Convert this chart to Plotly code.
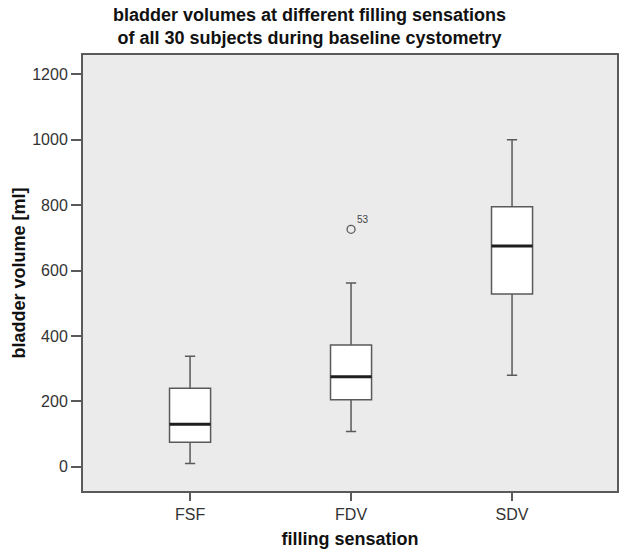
import plotly.graph_objects as go

categories = ["FSF", "FDV", "SDV"]
lower_whisker = [10, 108, 280]
q1_vals = [75, 205, 528]
median_vals = [130, 275, 675]
q3_vals = [240, 372, 795]
upper_whisker = [338, 562, 1000]
outlier_cat = ["FDV"]
outlier_vals = [726]
outlier_labels = ["53"]
y_ticks = [0, 200, 400, 600, 800, 1000, 1200]

FONT = "Liberation Sans, Arial, sans-serif"
LINE = "#5a5a5a"

fig = go.Figure()
fig.add_trace(go.Box(
    x=categories, q1=q1_vals, median=median_vals, q3=q3_vals,
    lowerfence=lower_whisker, upperfence=upper_whisker,
    width=0.255, whiskerwidth=0.25, fillcolor="white",
    line=dict(color=LINE, width=1.5), boxpoints=False,
    showlegend=False, hoverinfo="skip"))
# thick median bars
fig.add_trace(go.Box(
    x=categories, q1=median_vals, median=median_vals, q3=median_vals,
    lowerfence=median_vals, upperfence=median_vals,
    width=0.255, whiskerwidth=0, fillcolor="rgba(0,0,0,0)",
    line=dict(color="#1e1e1e", width=3), boxpoints=False,
    showlegend=False, hoverinfo="skip"))
fig.add_trace(go.Scatter(
    x=outlier_cat, y=outlier_vals, mode="markers",
    marker=dict(symbol="circle-open", size=8, color=LINE, line=dict(width=1.3)),
    showlegend=False, hoverinfo="skip"))
for c, v, t in zip(outlier_cat, outlier_vals, outlier_labels):
    fig.add_annotation(x=c, y=v, text=t, showarrow=False,
                       xshift=12, yshift=10,
                       font=dict(family=FONT, size=10, color="#444"))

fig.update_layout(
    width=619, height=554,
    margin=dict(l=83, r=0, t=55, b=63),
    paper_bgcolor="white", plot_bgcolor="#ebebeb",
    boxmode="overlay",
    title=dict(
        text="bladder volumes at different filling sensations<br>of all 30 subjects during baseline cystometry",
        x=0.5, xref="container", xanchor="center",
        y=1 - 21 / 554, yref="container", yanchor="middle",
        font=dict(family=FONT, size=18, color="#111", weight="bold")),
    font=dict(family=FONT),
)
fig.update_xaxes(
    type="category", categoryorder="array", categoryarray=categories,
    range=[-0.665, 2.652],
    showline=True, mirror=True, linecolor=LINE, linewidth=2,
    ticks="outside", ticklen=8, tickcolor=LINE, tickwidth=1.5,
    tickfont=dict(family=FONT, size=16, color="#333"),
    showgrid=False, zeroline=False,
    title=dict(text="filling sensation", standoff=10,
               font=dict(family=FONT, size=18, color="#111", weight="bold")))
fig.update_yaxes(
    range=[-74, 1259], tickvals=y_ticks,
    showline=True, mirror=True, linecolor=LINE, linewidth=2,
    ticks="outside", ticklen=10, tickcolor=LINE, tickwidth=1.5,
    tickfont=dict(family=FONT, size=16, color="#333"),
    showgrid=False, zeroline=False,
    title=dict(text="bladder volume [ml]", standoff=2,
               font=dict(family=FONT, size=18, color="#111", weight="bold")))

fig.write_html("out.html", config={"displayModeBar": False},
               post_script="document.body.style.margin='0';document.body.style.padding='0';")
